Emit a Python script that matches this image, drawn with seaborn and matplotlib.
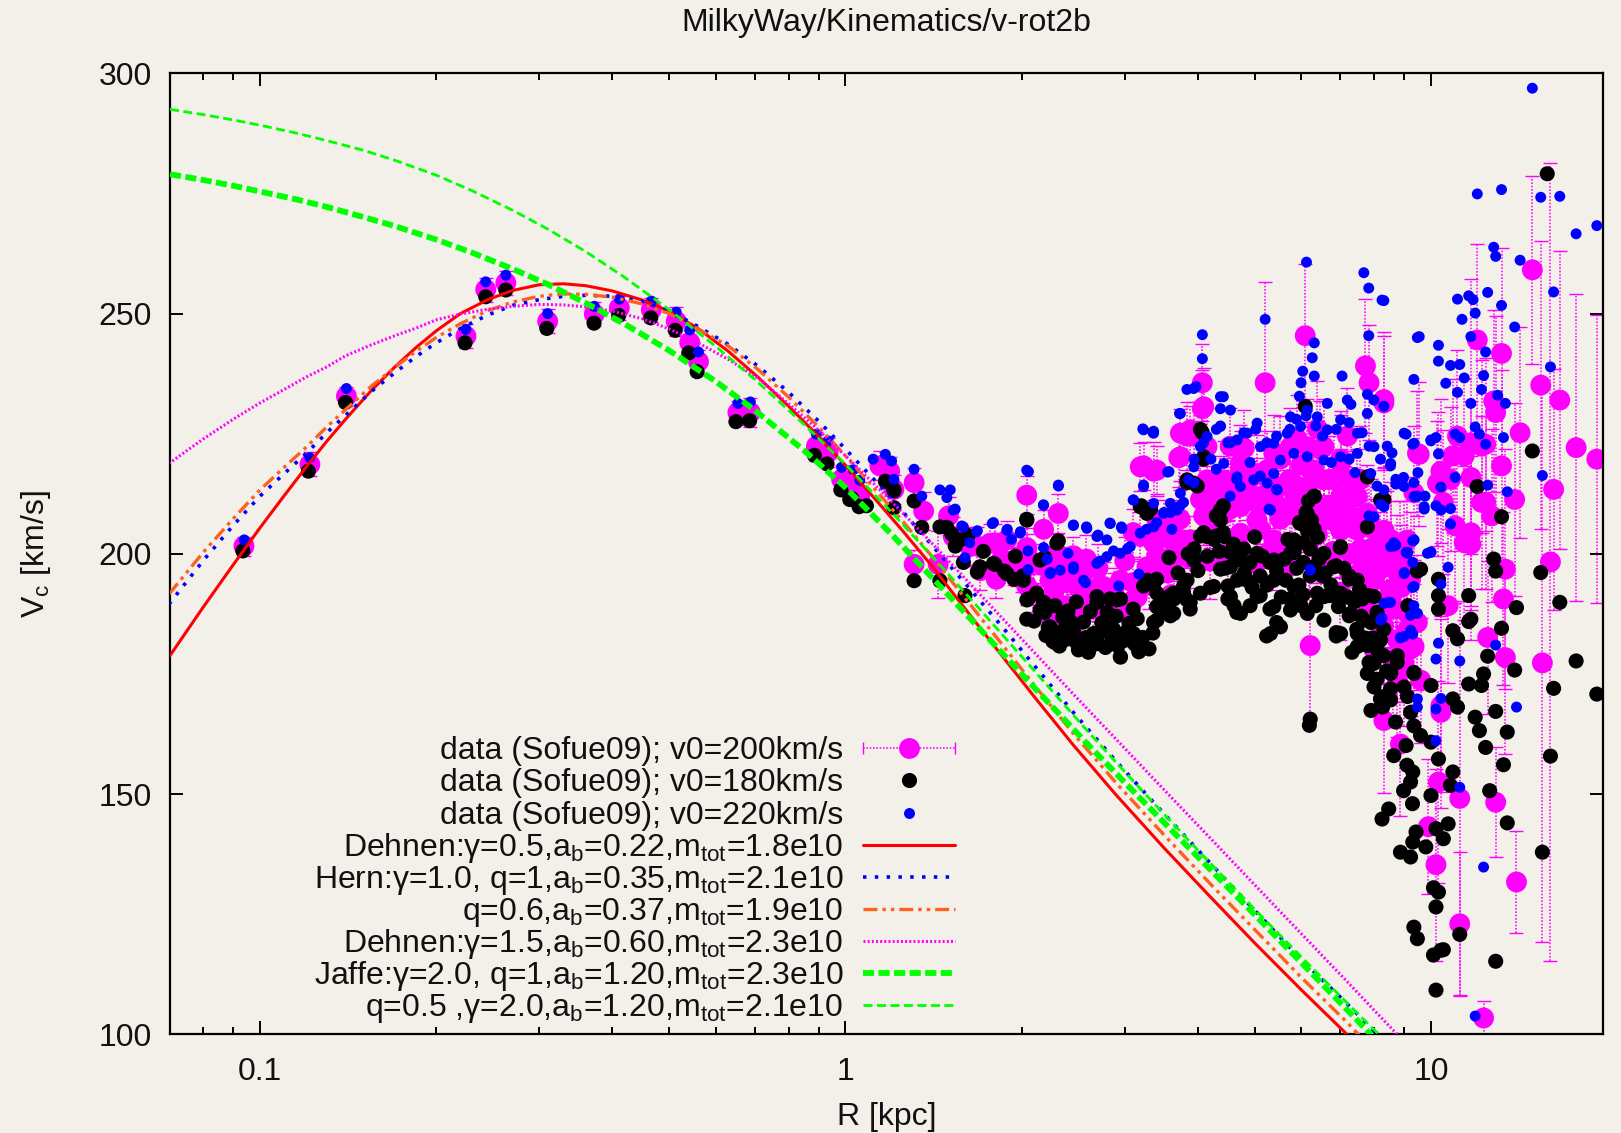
import numpy as np
import pandas as pd
import matplotlib
matplotlib.use("Agg")
import matplotlib.pyplot as plt
import seaborn as sns
from matplotlib.ticker import LogLocator, NullFormatter, FixedLocator

# ---------------- data (R [kpc], Vc [km/s], err) ----------------
# v0 = 200 km/s (magenta, with error bars)
mag_inner = [(0.0939, 201.6, 2), (0.1217, 218.6, 2.5), (0.1405, 232.8, 2), (0.2248, 245.3, 2.5),
             (0.243, 255.0, 2.5), (0.263, 256.4, 2.5), (0.310, 248.4, 2.5), (0.3725, 249.9, 2.5),
             (0.411, 251.2, 2.5), (0.466, 250.8, 2.5), (0.514, 248.4, 3), (0.542, 244.0, 2.5),
             (0.561, 240.0, 2.5), (0.655, 229.4, 2.5), (0.688, 229.4, 3), (0.892, 222.4, 3),
             (0.934, 221.1, 3), (0.985, 215.5, 3), (1.031, 214.1, 3), (1.058, 212.0, 3)]
mag_mid = [(1.145, 218.3, 3), (1.19, 217.2, 3), (1.21, 213.4, 3), (1.31, 214.8, 3), (1.31, 197.8, 3),
           (1.36, 208.9, 4), (1.44, 197.8, 7), (1.50, 207.9, 4), (1.68, 201.6, 4), (1.80, 202.3, 4),
           (1.81, 194.7, 4), (1.94, 197.5, 4), (2.04, 212.2, 4), (2.04, 201.3, 4), (2.04, 193.3, 4),
           (2.18, 205.1, 4), (2.18, 197.5, 4), (2.27, 192.0, 4), (2.31, 208.4, 4), (2.39, 194.0, 4),
           (2.39, 189.2, 4), (2.45, 199.6, 4), (2.58, 198.9, 5), (2.58, 190.6, 4), (2.72, 193.3, 5),
           (2.87, 192.0, 5), (3.10, 204.4, 5), (3.10, 194.0, 5), (3.23, 218.3, 5), (3.36, 217.2, 6),
           (3.36, 202.3, 5), (3.50, 205.1, 6), (3.64, 198.9, 6), (3.71, 220.0, 6), (3.73, 203.0, 6),
           (3.94, 224.5, 7), (4.07, 230.2, 8), (4.09, 207.9, 6), (4.26, 211.3, 7), (4.50, 214.8, 8),
           (4.54, 222.4, 8)]
mag_band = [(1.70, 196.5, 4), (1.85, 199.0, 4), (2.00, 196.0, 4), (2.10, 198.0, 4), (2.20, 190.5, 4),
            (2.33, 197.5, 4), (2.50, 193.0, 4), (2.55, 196.0, 4), (2.65, 188.5, 5), (2.70, 197.0, 5),
            (2.80, 188.8, 5), (2.95, 194.5, 5), (3.00, 198.5, 5), (3.15, 191.0, 5), (3.30, 193.5, 5),
            (3.40, 199.5, 5), (3.55, 196.0, 5), (3.60, 191.5, 5), (2.25, 186.5, 4), (2.45, 185.0, 4)]
mag_blob = [(1.766, 202.2, 4), (2.041, 200.1, 4), (2.095, 191.8, 4), (2.236, 194.5, 4), (2.452, 187.6, 4),
            (2.618, 191.1, 5), (2.870, 191.1, 5), (3.025, 187.6, 5), (3.188, 203.6, 5), (3.404, 207.0, 5),
            (3.636, 199.4, 5), (1.886, 202.9, 4), (2.296, 200.1, 4), (1.962, 197.3, 4), (2.760, 193.2, 5),
            (3.273, 197.3, 5), (3.883, 225.8, 5), (4.146, 215.4, 8), (4.727, 209.8, 8), (5.048, 207.0, 8),
            (5.390, 202.9, 8), (5.756, 215.4, 8), (6.148, 214.0, 10), (6.565, 215.4, 10), (7.010, 211.9, 10),
            (7.486, 204.9, 10), (7.993, 201.5, 10), (8.536, 198.0, 13), (9.117, 202.9, 13), (5.390, 220.9, 8),
            (6.148, 222.3, 10), (7.010, 218.8, 10), (7.993, 194.5, 10), (8.536, 191.1, 13), (9.117, 187.6, 13),
            (9.360, 180.7, 13), (8.996, 177.2, 13), (9.609, 173.7, 13), (3.733, 220.2, 5), (3.733, 225.1, 5),
            (4.092, 230.6, 8), (3.188, 218.1, 5), (3.404, 217.4, 5), (9.484, 220.9, 13), (10.26, 214.7, 13),
            (4.427, 208.4, 8), (4.727, 204.3, 8), (5.048, 211.9, 8), (5.756, 208.4, 8), (6.565, 207.0, 10),
            (7.010, 204.9, 10), (4.146, 208.4, 8), (3.883, 202.9, 5), (5.756, 222.3, 8), (6.565, 222.3, 10),
            (7.292, 215.4, 10), (7.787, 208.4, 10), (8.314, 204.9, 13), (8.996, 198.0, 13), (8.206, 187.6, 13),
            (8.763, 182.1, 13), (4.727, 218.8, 8), (5.048, 216.7, 8), (5.390, 211.2, 8), (6.312, 217.4, 10),
            (6.829, 215.4, 10), (7.486, 211.9, 10), (4.146, 222.3, 8), (4.427, 215.4, 8), (3.636, 206.3, 5),
            (3.450, 195.9, 5), (3.106, 190.4, 5), (1.528, 203.6, 4), (1.632, 201.5, 4),
            (4.30, 205.0, 8), (4.60, 212.0, 8), (4.85, 215.0, 8), (5.10, 210.0, 8), (5.25, 217.5, 8),
            (5.50, 214.0, 8), (5.65, 209.5, 8), (5.85, 212.5, 9), (6.00, 218.5, 9), (6.30, 211.0, 10),
            (6.40, 204.0, 10), (6.70, 210.0, 10), (6.90, 206.5, 10), (7.15, 208.0, 10), (7.40, 207.5, 10),
            (7.60, 196.5, 10), (7.90, 205.5, 10), (8.10, 199.0, 12), (8.40, 201.0, 12), (8.70, 188.5, 13),
            (8.90, 193.0, 13), (9.10, 184.0, 13), (5.30, 200.5, 8), (5.80, 197.5, 9), (6.20, 202.5, 10),
            (6.80, 200.5, 10), (4.20, 198.5, 8), (4.70, 201.5, 8), (5.90, 224.0, 9), (6.40, 226.0, 10),
            (7.20, 224.5, 10), (4.80, 222.0, 8)]
mag_disk = [(6.10, 245.4, 15), (5.21, 235.6, 21), (4.07, 235.6, 8), (3.83, 224.5, 7), (7.73, 239.1, 14),
            (7.84, 235.6, 12), (8.31, 232.1, 14), (6.22, 180.9, 15), (3.59, 203.0, 5), (3.88, 198.9, 6),
            (4.20, 207.2, 6), (4.54, 209.3, 7), (4.91, 211.3, 8), (5.31, 213.4, 8), (5.74, 215.5, 9),
            (6.22, 217.6, 9), (6.71, 215.5, 9), (7.25, 211.3, 10), (7.84, 207.2, 10), (8.53, 203.0, 12),
            (8.87, 198.9, 12), (9.23, 194.7, 14), (5.11, 205.1, 8), (5.53, 207.2, 8), (5.99, 209.3, 9),
            (6.47, 207.2, 9), (7.01, 205.1, 10), (7.58, 201.0, 10), (8.20, 196.8, 12), (8.53, 192.6, 12),
            (4.73, 217.6, 8), (4.37, 213.4, 7), (4.04, 211.3, 7), (3.73, 207.2, 6), (5.53, 219.7, 9),
            (7.01, 219.7, 10), (6.47, 221.8, 10), (7.58, 215.5, 11), (4.5, 200.0, 7), (5.0, 198.0, 8),
            (5.6, 202.0, 8), (6.5, 199.0, 9), (7.3, 200.0, 10), (7.0, 192.0, 10), (7.8, 188.0, 12),
            (8.3, 185.0, 12), (8.0, 180.0, 12), (8.6, 178.0, 14)]
mag_outer = [(14.9, 259.1, 19.5), (12.0, 244.5, 20), (13.2, 241.7, 22), (15.4, 235.1, 30), (16.6, 232.0, 31),
             (12.8, 231.8, 19), (12.9, 229.4, 20), (14.2, 225.2, 22), (17.7, 222.1, 32), (19.2, 219.7, 30),
             (16.2, 213.4, 25), (13.2, 218.3, 20), (13.9, 211.3, 20), (12.4, 210.7, 18), (11.1, 224.5, 18),
             (11.7, 223.1, 34), (10.9, 220.4, 16), (11.4, 220.4, 16), (12.2, 222.4, 18), (12.4, 222.8, 18),
             (9.55, 220.7, 15), (10.4, 217.2, 15), (10.8, 215.5, 15), (10.3, 214.5, 15), (11.7, 215.9, 16),
             (12.2, 210.7, 18), (12.7, 207.9, 18), (11.7, 204.4, 16), (11.0, 205.8, 16), (11.4, 202.3, 16),
             (8.31, 231.4, 14), (9.35, 212.7, 14), (10.5, 210.7, 15), (16.0, 198.3, 83), (15.5, 177.3, 58),
             (12.9, 148.3, 11.4), (14.0, 131.7, 10.7), (10.2, 135.3, 20), (11.2, 123.0, 15), (12.3, 103.4, 3.5),
             (11.2, 149.1, 41), (10.3, 152.5, 21), (10.4, 167.0, 20), (8.31, 165.3, 15), (8.87, 160.4, 15),
             (9.9, 143.2, 14), (13.4, 178.4, 20), (12.5, 182.6, 16), (13.3, 190.6, 18), (13.4, 196.8, 25),
             (11.7, 202.0, 20), (9.23, 180.2, 14), (8.76, 173.9, 12), (7.63, 199.6, 10), (8.76, 196.1, 12),
             (9.48, 185.7, 14), (10.7, 189.2, 16), (10.4, 168.4, 18)]

# v0 = 180 km/s (black)
blk_inner = [(0.0935, 200.6), (0.121, 217.2), (0.140, 231.5), (0.224, 243.9), (0.243, 253.5), (0.263, 254.9),
             (0.309, 246.9), (0.372, 248.0), (0.410, 249.6), (0.465, 249.1), (0.512, 246.5), (0.540, 241.8),
             (0.558, 237.9), (0.650, 227.5), (0.686, 227.7), (0.885, 220.5), (0.930, 218.7), (0.982, 213.3),
             (1.025, 211.5), (1.055, 209.8), (1.017, 211.3), (1.086, 210.0), (1.21, 213.1), (1.31, 194.4)]
blk_mid = [(1.17, 215.1), (1.21, 213.4), (1.21, 209.6), (1.31, 211.0), (1.35, 205.5), (1.45, 194.4),
           (1.49, 205.5), (1.52, 204.1), (1.54, 201.6), (1.59, 198.2), (1.60, 191.3), (1.68, 196.2),
           (1.80, 197.8), (1.87, 196.4), (1.94, 194.7), (2.01, 195.4), (2.04, 207.2), (2.05, 190.6),
           (2.04, 186.4), (2.18, 189.9), (2.19, 187.8), (2.22, 184.7), (2.33, 182.9), (2.40, 188.1),
           (2.31, 202.7), (2.19, 199.2), (2.45, 184.3), (2.55, 180.9), (2.65, 182.3), (2.72, 183.6),
           (2.87, 184.3), (2.95, 178.5), (3.17, 179.8), (2.69, 189.9), (2.83, 190.6), (2.95, 190.6),
           (3.10, 188.5), (3.23, 193.3), (3.36, 193.7), (3.50, 190.6), (3.64, 190.6), (3.78, 193.3),
           (3.88, 188.5), (3.57, 199.2), (3.94, 198.9), (4.09, 204.4), (4.26, 203.0), (4.42, 204.4),
           (4.54, 200.3), (4.37, 196.8), (4.50, 193.3), (4.61, 189.2), (3.83, 214.8), (3.99, 214.1),
           (4.07, 225.2), (3.20, 210.0), (3.32, 209.3), (2.28, 181.5), (2.50, 180.0), (2.60, 179.5),
           (2.78, 180.5), (3.00, 182.0), (3.30, 180.2), (2.42, 186.0), (2.90, 187.0), (3.05, 185.5)]
blk_chain = [(2.10, 186.0), (2.20, 183.0), (2.26, 181.8), (2.32, 180.8), (2.38, 182.2), (2.48, 181.6),
             (2.58, 182.6), (2.62, 180.6), (2.70, 181.3), (2.74, 185.6), (2.85, 182.0), (2.92, 180.8),
             (3.02, 183.8), (3.12, 181.2), (3.22, 182.6), (3.35, 183.5), (3.45, 188.5), (3.55, 189.5),
             (2.35, 186.8), (2.55, 185.8), (2.80, 187.8), (3.15, 186.5), (3.40, 189.0), (2.12, 191.8),
             (2.28, 189.2), (2.48, 190.0), (2.62, 188.0), (1.95, 199.5), (1.72, 200.5), (1.62, 203.8),
             (3.70, 196.0), (3.85, 200.0), (4.00, 196.5), (4.15, 199.5), (4.20, 193.0), (4.35, 200.5),
             (4.45, 197.0), (4.60, 202.0), (4.65, 199.0), (4.80, 196.0), (4.95, 193.0), (5.00, 203.5),
             (5.15, 199.5), (5.25, 193.5), (5.45, 196.5), (5.55, 191.0), (5.65, 194.5), (5.70, 203.0),
             (5.90, 197.0), (5.95, 193.5), (6.05, 191.5), (6.18, 211.0), (6.25, 207.0), (6.40, 203.5),
             (6.45, 199.0), (6.60, 196.0), (6.75, 193.5), (6.95, 189.0), (7.10, 197.0), (7.20, 191.0),
             (7.40, 190.0), (7.60, 187.0), (7.70, 182.5), (7.95, 182.5), (8.10, 180.0), (8.40, 175.6),
             (8.70, 165.0), (9.10, 156.0), (9.30, 148.0), (9.80, 139.0), (10.1, 130.5), (10.5, 117.6)]
blk_band = [(1.450, 205.6), (1.569, 202.9), (1.697, 197.3), (1.790, 198.0), (1.886, 195.9), (2.014, 194.5),
            (2.041, 190.4), (2.150, 188.3), (2.236, 184.8), (2.357, 184.1), (2.452, 183.4), (2.551, 181.4),
            (2.653, 183.4), (2.796, 184.8), (2.947, 182.8), (3.106, 183.4), (2.947, 178.6), (3.17, 179.6),
            (2.296, 202.2), (2.041, 207.0), (2.150, 198.7), (2.688, 191.1), (2.908, 190.4), (3.273, 194.5),
            (3.404, 191.8), (3.636, 191.8), (3.832, 194.5), (3.934, 198.7), (4.146, 203.6), (4.427, 203.6),
            (4.727, 198.7), (5.048, 200.1), (5.390, 198.7), (5.756, 200.1), (6.148, 204.9), (6.312, 211.9),
            (6.148, 208.4), (5.989, 206.3), (6.565, 200.1), (7.010, 201.5), (7.486, 194.5), (7.993, 191.1),
            (4.545, 191.1), (4.727, 187.6), (5.048, 191.1), (5.390, 189.0), (5.756, 188.3), (6.148, 187.6),
            (6.565, 186.2), (7.010, 183.4), (7.486, 180.7), (7.993, 177.2), (7.993, 172.3), (8.536, 169.6),
            (9.117, 170.3), (9.360, 175.1), (5.32, 183.4), (5.533, 184.8), (4.545, 197.3), (4.666, 194.5),
            (4.256, 193.2), (4.039, 191.8), (3.832, 190.4), (3.636, 187.6), (3.404, 186.2), (4.092, 220.2),
            (3.832, 215.4), (3.934, 214.7), (3.188, 209.8), (3.273, 208.4), (7.787, 216.0), (8.206, 211.2),
            (7.787, 205.6), (4.370, 209.1), (4.370, 207.0), (5.833, 202.9), (6.312, 197.3), (6.829, 197.3),
            (4.853, 194.5), (5.390, 194.5), (5.833, 193.2), (6.395, 191.8), (7.292, 187.6), (7.010, 191.8),
            (7.685, 186.2), (7.486, 183.4), (6.565, 191.1), (8.206, 182.1), (8.536, 175.1), (7.787, 175.1),
            (8.314, 170.3), (8.996, 172.3)]
blk_disk = [(6.32, 212.0), (6.12, 208.6), (5.96, 206.5), (6.06, 202.3), (6.32, 205.1), (6.22, 201.0),
            (6.10, 230.7), (4.04, 225.9), (4.09, 219.7), (4.42, 210.0), (4.30, 207.9), (4.04, 203.7),
            (3.94, 201.0), (4.30, 203.7), (4.79, 201.0), (4.91, 198.2), (5.11, 195.4), (5.31, 198.2),
            (5.62, 198.9), (5.84, 200.3), (6.06, 198.2), (6.22, 195.4), (6.53, 195.4), (6.89, 197.5),
            (7.25, 195.4), (7.55, 192.6), (7.84, 191.3), (8.09, 187.8), (8.31, 184.3), (7.79, 180.9),
            (8.31, 178.8), (8.76, 177.4), (8.53, 171.9), (8.20, 169.8), (3.40, 194.7), (3.59, 191.3),
            (3.78, 192.0), (3.88, 189.9), (3.59, 187.1), (3.36, 185.7), (4.50, 190.6), (4.66, 187.8),
            (4.91, 189.2), (5.11, 191.3), (5.31, 188.5), (5.24, 182.9), (5.45, 185.7), (5.74, 190.6),
            (6.00, 189.2), (6.36, 189.2), (6.71, 191.3), (7.25, 187.1), (7.47, 184.3), (6.89, 183.6),
            (6.22, 165.6), (6.20, 164.3)]
blk_outer = [(15.8, 279.1), (14.9, 221.4), (12.0, 214.0), (13.2, 207.7), (8.31, 211.3), (7.0, 201.3),
             (12.8, 198.9), (12.9, 196.4), (15.4, 196.1), (16.6, 189.9), (14.0, 188.8), (13.2, 184.5),
             (11.6, 185.9), (12.5, 178.7), (12.3, 175.0), (11.6, 172.9), (12.2, 172.6), (13.9, 175.8),
             (17.7, 177.7), (19.2, 170.8), (16.2, 172.0), (12.9, 167.2), (11.9, 166.0), (12.1, 163.2),
             (13.5, 162.9), (12.4, 159.7), (13.3, 156.1), (16.0, 157.9), (12.6, 150.7), (13.5, 144.0),
             (15.5, 137.9), (12.9, 115.2), (11.2, 120.8), (10.2, 109.2), (10.1, 116.5), (10.4, 117.5),
             (9.35, 122.3), (9.48, 119.9), (10.3, 129.6), (10.2, 126.5), (8.87, 137.9), (9.23, 136.9),
             (9.31, 140.0), (9.43, 142.1), (8.25, 144.8), (8.47, 146.9), (10.2, 142.8), (10.5, 140.7),
             (10.7, 143.8), (8.98, 150.7), (9.23, 152.5), (9.31, 154.6), (10.0, 149.7), (10.8, 151.8),
             (10.9, 154.6), (10.3, 157.3), (10.0, 160.8), (8.64, 158.0), (9.07, 160.1), (9.6, 162.2),
             (7.90, 167.4), (8.27, 168.1), (9.35, 164.2), (9.23, 167.0), (9.35, 175.3), (10.0, 172.6),
             (11.1, 168.1), (10.9, 169.8), (8.76, 178.8), (8.53, 175.3), (8.09, 173.9), (10.3, 188.5),
             (10.3, 191.3), (9.6, 196.8), (10.9, 184.0), (11.1, 182.3), (11.6, 191.3), (11.7, 186.4),
             (7.84, 177.4), (7.33, 179.5), (6.89, 182.9), (7.25, 194.7), (7.63, 190.6), (7.9, 185.7),
             (9.13, 189.2), (9.48, 196.4), (10.3, 194.7)]

# v0 = 220 km/s (blue)
blu_inner = [(0.094, 202.9), (0.1217, 220.0), (0.1405, 234.4), (0.2248, 246.7), (0.243, 256.6), (0.263, 258.0),
             (0.310, 250.0), (0.3725, 251.5), (0.411, 253.0), (0.466, 252.6), (0.514, 250.3), (0.542, 246.6),
             (0.561, 242.0), (0.655, 231.3), (0.688, 231.6), (0.892, 224.9), (0.934, 223.5), (0.985, 218.0),
             (1.031, 217.5), (1.058, 215.3), (1.115, 219.7), (1.31, 217.6)]
blu_mid = [(1.17, 220.7), (1.199, 219.3), (1.21, 215.5), (1.35, 212.0), (1.51, 213.3), (1.49, 211.7),
           (1.54, 209.3), (1.58, 205.8), (1.68, 204.8), (1.63, 202.3), (1.60, 199.2), (2.04, 217.4),
           (2.31, 214.3), (2.18, 210.1), (1.79, 206.5), (1.89, 205.1), (1.99, 204.6), (1.92, 203.0),
           (2.05, 200.6), (2.18, 201.3), (2.21, 198.9), (2.05, 196.7), (2.40, 200.1), (2.45, 205.9),
           (2.58, 205.6), (2.70, 203.9), (2.83, 206.4), (2.96, 205.6), (3.10, 211.2), (3.23, 214.3),
           (2.24, 196.1), (2.45, 196.8), (2.57, 194.0), (2.72, 198.5), (2.87, 200.6), (3.03, 201.0),
           (3.17, 195.8), (2.93, 193.3), (3.27, 205.1), (3.50, 208.6), (3.73, 210.0), (3.94, 214.8),
           (4.21, 219.7), (4.50, 223.1), (4.37, 226.6), (3.55, 217.0), (3.22, 226.0), (3.35, 225.3),
           (3.72, 229.2), (4.37, 230.2)]
blu_band = [(1.450, 213.3), (1.528, 209.1), (1.590, 205.6), (1.675, 204.6), (1.781, 206.3), (1.886, 204.9),
            (1.988, 204.3), (2.054, 217.1), (2.311, 214.1), (2.178, 210.2), (2.452, 206.0), (2.584, 205.3),
            (2.688, 203.6), (2.796, 202.9), (2.833, 206.3), (2.966, 205.3), (3.106, 211.2), (3.230, 214.0),
            (3.360, 210.5), (3.589, 210.5), (3.733, 212.6), (3.857, 215.4), (3.934, 218.1), (4.039, 222.3),
            (4.146, 224.4), (4.370, 226.5), (4.545, 229.9), (4.370, 232.7), (3.934, 234.4), (3.733, 229.2),
            (3.230, 225.8), (3.360, 225.1), (2.236, 195.9), (2.327, 196.6), (2.452, 197.3), (2.551, 194.5),
            (2.688, 198.0), (2.796, 199.4), (2.947, 200.1), (3.065, 201.5), (3.188, 204.3), (3.360, 205.6),
            (3.495, 208.4), (3.684, 209.1), (4.427, 218.8), (4.666, 216.0), (4.727, 214.0), (4.982, 215.4),
            (5.251, 214.7), (5.390, 216.7), (5.533, 219.5), (5.833, 220.9), (6.148, 220.2), (6.565, 219.5),
            (7.010, 220.2), (7.486, 220.9), (7.993, 222.3), (6.652, 225.8), (7.010, 227.9), (7.486, 225.1),
            (7.787, 229.2), (7.993, 232.0), (7.197, 232.0), (6.652, 231.3), (6.395, 228.5), (5.989, 226.5),
            (5.681, 225.1), (5.390, 223.0), (5.115, 222.3), (4.853, 225.1), (4.666, 223.7), (5.048, 227.2),
            (5.756, 228.5), (6.148, 229.9), (7.890, 216.7), (8.314, 213.3), (7.993, 207.7), (8.536, 218.8),
            (8.996, 214.0), (9.360, 211.9), (9.736, 209.8), (8.998, 225.1), (9.360, 223.0), (9.995, 223.7),
            (8.314, 209.8), (5.320, 209.1), (5.461, 213.3), (6.229, 196.6), (8.536, 201.5), (9.117, 200.1),
            (9.360, 202.9), (9.865, 200.1), (8.998, 195.9), (9.360, 193.2), (9.484, 187.6), (8.314, 189.7),
            (8.206, 186.2), (8.996, 182.8), (9.237, 184.1)]
blu_disk = [(6.13, 260.7), (5.21, 248.8), (4.07, 245.6), (4.07, 240.6), (3.83, 234.2), (3.97, 234.8),
            (3.36, 225.5), (3.57, 217.1), (4.42, 232.7), (7.68, 258.5), (7.83, 255.3), (8.25, 252.8),
            (7.83, 245.4), (6.32, 243.9), (6.27, 240.8), (6.04, 238.0), (6.32, 237.0), (6.00, 235.6),
            (5.96, 232.8), (7.05, 237.0), (7.30, 231.1), (7.79, 233.2), (8.31, 230.7), (9.35, 236.3),
            (9.48, 245.0), (9.07, 224.9), (3.94, 219.7), (4.09, 223.1), (4.30, 225.9), (4.54, 223.1),
            (4.79, 225.2), (5.02, 225.9), (5.24, 223.1), (5.45, 224.5), (5.74, 225.9), (5.89, 228.0),
            (6.12, 228.7), (6.36, 226.6), (6.53, 224.5), (6.89, 225.9), (7.25, 227.3), (7.63, 225.2),
            (7.84, 222.4), (8.20, 219.7), (8.53, 218.3), (6.76, 219.0), (7.25, 219.7), (4.91, 219.0),
            (5.11, 216.2), (4.66, 215.5), (4.54, 212.0), (4.30, 217.6), (5.45, 213.4), (5.29, 209.3),
            (3.78, 210.7), (3.59, 208.6), (3.40, 206.5), (3.61, 205.1), (8.09, 214.1), (8.20, 210.3),
            (7.84, 207.9), (8.64, 202.3), (9.07, 200.3), (9.31, 198.2), (9.01, 196.1), (9.35, 189.2),
            (8.53, 189.9), (8.87, 182.6), (6.22, 196.8), (8.71, 215.5), (7.42, 216.9)]
blu_outer = [(14.9, 296.9), (12.0, 274.9), (13.2, 275.8), (15.4, 274.2), (16.6, 274.4), (19.2, 268.3),
             (17.7, 266.6), (12.8, 263.8), (12.9, 261.9), (14.2, 261.1), (16.2, 254.5), (11.1, 253.0),
             (11.6, 253.7), (11.8, 252.9), (12.5, 254.4), (13.2, 251.7), (11.9, 250.1), (11.3, 248.8),
             (13.9, 247.2), (11.7, 245.2), (9.55, 245.2), (10.3, 243.4), (10.3, 240.1), (10.8, 239.2),
             (11.2, 239.4), (12.4, 242.0), (10.6, 235.5), (11.4, 236.6), (11.1, 233.6), (12.3, 237.1),
             (12.2, 234.2), (11.7, 231.3), (13.0, 233.0), (13.4, 231.3), (16.0, 238.9), (8.31, 252.7),
             (15.5, 216.3), (12.5, 214.3), (13.5, 212.9), (13.3, 224.2), (12.4, 222.8), (11.9, 226.4),
             (12.1, 224.9), (11.0, 224.9), (11.2, 224.2), (10.3, 220.8), (11.0, 215.9), (10.4, 213.9),
             (10.8, 206.2), (10.8, 209.4), (10.0, 223.5), (10.2, 224.2), (9.31, 222.8), (8.42, 222.4),
             (8.58, 221.0), (9.5, 216.9), (8.71, 214.5), (8.98, 215.9), (9.35, 214.8), (9.48, 212.0),
             (9.77, 212.0), (9.74, 209.3), (10.2, 210.0), (10.4, 209.1), (9.31, 202.7), (8.64, 201.6),
             (10.0, 200.4), (14.0, 168.1), (12.3, 134.8), (11.9, 103.8), (11.2, 151.4), (10.2, 161.1),
             (9.48, 169.8), (9.48, 168.1), (10.2, 167.7), (10.4, 169.9), (10.2, 178.1), (11.2, 177.7),
             (12.9, 181.0), (8.47, 189.9), (8.25, 186.6), (8.87, 182.5), (9.23, 187.2), (9.31, 183.3),
             (10.3, 181.4), (8.71, 201.8), (9.13, 200.3), (9.31, 193.0), (10.0, 200.3), (10.4, 193.7),
             (10.7, 197.2)]

# model curves
curve_R = [0.0699, 0.08, 0.09, 0.1, 0.11, 0.12, 0.13, 0.14, 0.155, 0.17, 0.185, 0.2, 0.22, 0.245, 0.27,
           0.3, 0.33, 0.36, 0.4, 0.45, 0.5, 0.56, 0.63, 0.71, 0.8, 0.9, 1.0, 1.12, 1.25, 1.4, 1.6, 1.85,
           2.1, 2.45, 2.9, 3.5, 4.2, 5.0, 6.0, 7.2, 7.6, 8.0, 8.4, 8.8]
dehnen05_v = [178.5, 188.9, 197.7, 205.4, 212.1, 218.1, 223.4, 228.0, 234.0, 238.9, 243.0, 246.4, 250.0,
              252.9, 254.8, 256.0, 256.2, 255.8, 254.7, 252.8, 250.5, 246.9, 242.2, 236.7, 230.7, 224.4,
              218.4, 211.6, 204.9, 197.7, 188.6, 178.8, 170.3, 160.2, 149.8, 138.8, 128.6, 119.0, 109.3, 99.9,
              97.2, 94.6, 92.1, 89.7]
hern_v = [189.5, 198.6, 205.9, 212.0, 216.7, 220.9, 225.2, 228.8, 233.8, 237.7, 241.1, 243.9, 246.9, 249.7,
          251.7, 252.9, 253.6, 253.8, 253.6, 252.5, 250.6, 247.3, 243.6, 239.0, 233.6, 227.6, 221.8, 215.4,
          208.9, 202.0, 193.9, 184.9, 176.8, 167.0, 156.8, 145.9, 135.6, 125.8, 115.6, 106.3,
          103.4, 100.6, 98.0, 95.5]
hernq_v = [191.6, 200.3, 207.3, 213.3, 218.0, 222.2, 226.4, 230.0, 234.9, 238.8, 242.2, 245.0, 247.9, 250.6,
           252.4, 253.6, 254.1, 254.0, 253.4, 252.0, 250.0, 246.8, 243.3, 238.3, 232.6, 226.4, 220.4, 213.6,
           206.9, 199.7, 190.8, 181.2, 172.7, 162.6, 152.3, 141.5, 131.3, 121.8, 111.9, 102.4,
           99.4, 96.6, 94.0, 91.5]
dehnen15_v = [218.8, 223.9, 228.0, 231.4, 234.2, 236.8, 238.9, 241.2, 243.5, 245.4, 247.0, 248.7, 249.9,
              250.9, 251.5, 251.9, 251.8, 251.4, 250.5, 248.9, 246.8, 243.9, 240.5, 236.5, 231.2, 225.7,
              220.4, 214.5, 208.6, 202.4, 194.9, 186.7, 179.5, 170.8, 161.4, 150.9, 140.8, 131.1, 121.0, 110.9,
              107.9, 105.0, 102.3, 99.7]
jaffe_R = [0.0702, 0.08, 0.09, 0.1, 0.115, 0.13, 0.15, 0.17, 0.2, 0.23, 0.27, 0.31, 0.36, 0.42, 0.5, 0.6,
           0.7, 0.85, 1.0, 1.2, 1.45, 1.75, 2.1, 2.6, 3.2, 4.0, 5.0, 6.2, 7.5, 8.4, 8.8]
jaffe_v = [279.0, 277.8, 276.6, 275.4, 273.8, 272.2, 270.1, 268.2, 265.4, 262.7, 259.3, 256.1, 252.2, 247.8,
           242.3, 235.9, 229.9, 221.5, 213.8, 204.0, 193.3, 182.6, 172.2, 160.2, 148.9, 136.9, 124.9, 113.2,
           102.8, 96.5, 94.0]
jaffeq_v = [292.5, 291.4, 290.3, 289.2, 287.6, 286.0, 284.0, 281.9, 278.8, 275.6, 271.5, 267.6, 262.9, 257.5,
            250.8, 243.2, 236.3, 226.9, 218.6, 208.6, 197.7, 186.6, 175.7, 162.9, 150.9, 138.3, 126.0, 114.4,
            104.3, 98.4, 95.9]

legend_labels = [
    "data (Sofue09); v0=200km/s",
    "data (Sofue09); v0=180km/s",
    "data (Sofue09); v0=220km/s",
    "Dehnen:γ=0.5,a$_\\mathrm{b}$=0.22,m$_\\mathrm{tot}$=1.8e10",
    "Hern:γ=1.0, q=1,a$_\\mathrm{b}$=0.35,m$_\\mathrm{tot}$=2.1e10",
    "q=0.6,a$_\\mathrm{b}$=0.37,m$_\\mathrm{tot}$=1.9e10",
    "Dehnen:γ=1.5,a$_\\mathrm{b}$=0.60,m$_\\mathrm{tot}$=2.3e10",
    "Jaffe:γ=2.0, q=1,a$_\\mathrm{b}$=1.20,m$_\\mathrm{tot}$=2.3e10",
    "q=0.5 ,γ=2.0,a$_\\mathrm{b}$=1.20,m$_\\mathrm{tot}$=2.1e10",
]
x_ticks = [0.1, 1, 10]
x_ticklabels = ["0.1", "1", "10"]
y_ticks = [100, 150, 200, 250, 300]

# ---------------- styling ----------------
sns.set_theme(style="ticks")
plt.rcParams["font.family"] = ["Liberation Sans", "DejaVu Sans"]
plt.rcParams["mathtext.fontset"] = "custom"
plt.rcParams["mathtext.rm"] = "Liberation Sans"
plt.rcParams["mathtext.it"] = "Liberation Sans:italic"
plt.rcParams["mathtext.bf"] = "Liberation Sans:bold"
plt.rcParams["lines.scale_dashes"] = False
FS = 23
BG = "#f3f0ea"
MAG = "#ff00ff"
BLU = "#0000ff"
RED = "#ff0000"
ORA = "#ff5f1f"
GRN = "#00ff00"

fig = plt.figure(figsize=(16.21, 11.33), dpi=100, facecolor=BG)
ax = fig.add_axes([0.10487, 0.08711, 0.88384, 0.84819])
ax.set_facecolor(BG)
ax.set_xscale("log")

mag = pd.DataFrame(mag_inner + mag_mid + mag_band + mag_blob + mag_disk + mag_outer, columns=["R", "v", "err"])
blk = pd.DataFrame(blk_inner + blk_mid + blk_chain + blk_band + blk_disk + blk_outer, columns=["R", "v"])
blu = pd.DataFrame(blu_inner + blu_mid + blu_band + blu_disk + blu_outer, columns=["R", "v"])

eb = ax.errorbar(mag["R"], mag["v"], yerr=mag["err"], fmt="none", ecolor=MAG,
                 elinewidth=1.1, capsize=5, capthick=1.0, zorder=1.5)
eb[2][0].set_linestyle((0, (1.2, 1.2)))

sns.scatterplot(data=mag, x="R", y="v", ax=ax, color=MAG, s=225, linewidth=0,
                edgecolor="none", legend=False, zorder=2)
sns.scatterplot(data=blk, x="R", y="v", ax=ax, color="black", s=118, linewidth=0,
                edgecolor="none", legend=False, zorder=3)
sns.scatterplot(data=blu, x="R", y="v", ax=ax, color=BLU, s=62, linewidth=0,
                edgecolor="none", legend=False, zorder=4)

curves = [
    (curve_R, dehnen05_v, RED, 2.2, "-"),
    (curve_R, hern_v, BLU, 2.6, (0, (2.5, 6.0))),
    (curve_R, hernq_v, ORA, 2.4, (0, (10, 3.6, 2.5, 3.6, 2.5, 3.6))),
    (curve_R, dehnen15_v, MAG, 2.2, (0, (1.4, 1.6))),
    (jaffe_R, jaffe_v, GRN, 4.2, (0, (8, 3.2))),
    (jaffe_R, jaffeq_v, GRN, 2.0, (0, (6.5, 3.2))),
]
for i, (cx, cv, col, lw, ls) in enumerate(curves):
    sns.lineplot(x=cx, y=cv, ax=ax, color=col, lw=lw, linestyle=ls,
                 sort=False, estimator=None, legend=False, zorder=6 + i * 0.1)

ax.set_xlim(0.0702, 19.65)
ax.set_ylim(100, 300)
ax.xaxis.set_major_locator(FixedLocator(x_ticks))
ax.set_xticklabels(x_ticklabels)
ax.xaxis.set_minor_locator(LogLocator(base=10, subs=np.arange(2, 10)))
ax.xaxis.set_minor_formatter(NullFormatter())
ax.set_yticks(y_ticks)
ax.set_xlabel("")
ax.set_ylabel("")
for sp in ax.spines.values():
    sp.set_visible(True)
    sp.set_linewidth(1.6)
    sp.set_color("black")
ax.tick_params(which="both", direction="in", top=True, right=True, width=1.4, color="black",
               labelsize=FS, labelcolor="#111111")
ax.tick_params(which="major", length=9.5)
ax.tick_params(which="minor", length=4.7)
ax.tick_params(axis="x", pad=16)
ax.tick_params(axis="y", pad=13)

fig.text(0.5468, 1 - 23 / 1133, "MilkyWay/Kinematics/v-rot2b", ha="center", va="center",
         fontsize=FS, color="#111111")
fig.text(0.5468, (1133 - 1116.5) / 1133, "R [kpc]", ha="center", va="center", fontsize=FS, color="#111111")
fig.text(36 / 1621, (1133 - 554) / 1133, "V$_\\mathrm{c}$ [km/s]", ha="center", va="center",
         rotation=90, fontsize=FS, color="#111111")

# ---------------- key (gnuplot style: text right-aligned, sample to the right) ----------------
tx = 0.4700
hx0, hx1 = 0.4834, 0.5479
hxc = (hx0 + hx1) / 2
styles = [None, None, None] + [(c[2], c[3], c[4]) for c in curves]
for i, lab in enumerate(legend_labels):
    yc = 0.2976 - 0.0334 * i
    ax.text(tx, yc - 0.0115, lab, transform=ax.transAxes, ha="right", va="baseline",
            fontsize=FS, color="#111111", zorder=10)
    if i == 0:
        ax.plot([hx0, hx1], [yc, yc], transform=ax.transAxes, color=MAG, lw=1.1,
                linestyle=(0, (1.2, 1.2)), clip_on=False, zorder=10)
        ax.plot([hx0, hx1], [yc, yc], transform=ax.transAxes, color=MAG, lw=0, marker="|",
                ms=9, mew=1.0, clip_on=False, zorder=10)
        ax.plot([hxc], [yc], transform=ax.transAxes, color=MAG, marker="o", ms=15, mew=0,
                clip_on=False, zorder=10)
    elif i == 1:
        ax.plot([hxc], [yc], transform=ax.transAxes, color="black", marker="o", ms=10.9, mew=0,
                clip_on=False, zorder=10)
    elif i == 2:
        ax.plot([hxc], [yc], transform=ax.transAxes, color=BLU, marker="o", ms=7.9, mew=0,
                clip_on=False, zorder=10)
    else:
        col, lw, ls = styles[i]
        ax.plot([hx0, hx1], [yc, yc], transform=ax.transAxes, color=col, lw=lw, linestyle=ls,
                clip_on=False, zorder=10)

fig.savefig("out.png", dpi=100, facecolor=BG)
